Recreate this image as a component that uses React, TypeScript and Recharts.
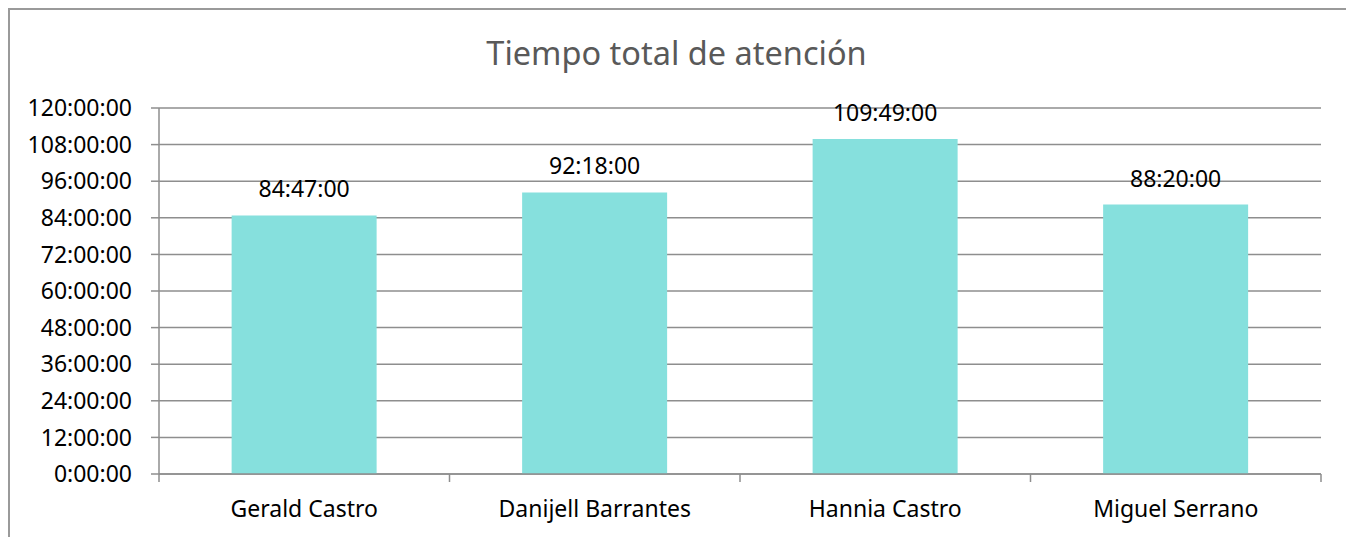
import { BarChart, Bar, XAxis, YAxis, CartesianGrid, LabelList } from "recharts";

// minutes of attention per agent
const agents = ["Gerald Castro", "Danijell Barrantes", "Hannia Castro", "Miguel Serrano"];
const minutes = [5087, 5538, 6589, 5300];
const yTicks = [0, 720, 1440, 2160, 2880, 3600, 4320, 5040, 5760, 6480, 7200];

const title = "Tiempo total de atención";

const data = agents.map((name, i) => ({ name, value: minutes[i] }));

const FONT = "'Noto Sans', 'Open Sans', sans-serif";
const GRID = "#8e8e8e";

// h:mm:ss, hours not wrapped at 24
function fmt(v: number) {
  const h = Math.floor(v / 60);
  const m = Math.round(v % 60);
  return `${h}:${String(m).padStart(2, "0")}:00`;
}

// category tick: line on the band edges (left one, plus the right one for the last band)
function EdgeTick(props: any) {
  const { x, y, payload, index, visibleTicksCount } = props;
  const half = payload.offset ?? 0;
  const last = index === visibleTicksCount - 1;
  return (
    <g>
      <line x1={x - half} x2={x - half} y1={y} y2={y + 8} stroke={GRID} strokeWidth={1.5} />
      {last && <line x1={x + half} x2={x + half} y1={y} y2={y + 8} stroke={GRID} strokeWidth={1.5} />}
      <text x={x} y={y + 35} dy="0.355em" textAnchor="middle" fontSize={23} fontFamily={FONT} fill="#000">
        {payload.value}
      </text>
    </g>
  );
}

export default function App() {
  return (
    <div
      style={{
        position: "relative",
        width: 1342,
        height: 560,
        border: "2px solid #9a9a9a",
        boxSizing: "border-box",
        background: "#fff",
      }}
    >
      <div
        style={{
          position: "absolute",
          top: 27,
          left: 0,
          width: 1333,
          textAlign: "center",
          fontFamily: FONT,
          fontSize: 32.5,
          lineHeight: 1,
          color: "#595959",
        }}
      >
        {title}
      </div>
      <BarChart
        width={1338}
        height={540}
        data={data}
        margin={{ top: 98, right: 27, bottom: 16, left: 0 }}
        barCategoryGap="25%"
      >
        <CartesianGrid vertical={false} stroke={GRID} strokeWidth={1.5} />
        <XAxis
          dataKey="name"
          interval={0}
          height={60}
          tickLine={false}
          tickSize={0}
          tickMargin={0}
          axisLine={{ stroke: GRID, strokeWidth: 1.5 }}
          tick={<EdgeTick />}
        />
        <YAxis
          width={149}
          domain={[0, 7200]}
          ticks={yTicks}
          interval={0}
          tickFormatter={fmt}
          tickSize={8}
          tickMargin={19}
          axisLine={{ stroke: GRID, strokeWidth: 1.5 }}
          tickLine={{ stroke: GRID, strokeWidth: 1.5 }}
          tick={{ fill: "#000", fontSize: 23, fontFamily: FONT }}
        />
        <Bar dataKey="value" fill="#86e0dd" isAnimationActive={false}>
          <LabelList
            dataKey="value"
            position="top"
            offset={18}
            formatter={(v: any) => fmt(Number(v))}
            style={{ fill: "#000", fontSize: 23, fontFamily: FONT }}
          />
        </Bar>
      </BarChart>
    </div>
  );
}
